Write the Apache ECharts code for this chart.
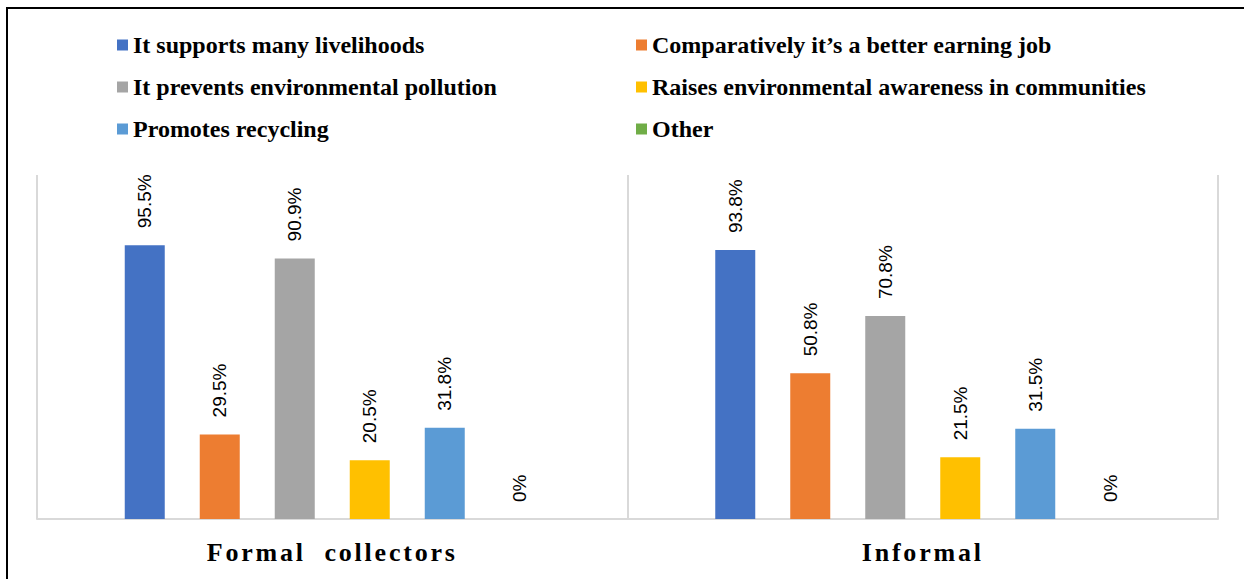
<!DOCTYPE html>
<html>
<head>
<meta charset="utf-8">
<title>Reasons for waste collection work</title>
<script src="https://cdn.jsdelivr.net/npm/echarts@6/dist/echarts.min.js"></script>
<style>
  html, body { margin: 0; padding: 0; background: #fff; }
  #chart { width: 1244px; height: 579px; }
  #chart text { white-space: pre; }
</style>
</head>
<body>
<div id="chart"></div>
<script>
// Collector groups along the category axis
const categories = ['Formal  collectors', 'Informal'];

// Reason names, in legend order
const seriesNames = [
  'It supports many livelihoods',
  'Comparatively it\u2019s a better earning job',
  'It prevents environmental pollution',
  'Raises environmental awareness in communities',
  'Promotes recycling',
  'Other'
];

// Share of respondents (%) per group: [formal, informal]
const supportsLivelihoods = [95.5, 93.8];
const betterEarningJob = [29.5, 50.8];
const preventsPollution = [90.9, 70.8];
const raisesAwareness = [20.5, 21.5];
const promotesRecycling = [31.8, 31.5];
const otherReason = [0, 0];

const seriesValues = [
  supportsLivelihoods,
  betterEarningJob,
  preventsPollution,
  raisesAwareness,
  promotesRecycling,
  otherReason
];

const palette = ['#4472C4', '#ED7D31', '#A5A5A5', '#FFC000', '#5B9BD5', '#70AD47'];

const chart = echarts.init(document.getElementById('chart'), null, { renderer: 'svg' });

const legendText = {
  fontFamily: '"Liberation Serif", "Times New Roman", serif',
  fontWeight: 'bold',
  fontSize: 24,
  color: '#000'
};

const legendBase = {
  orient: 'vertical',
  top: 28,
  itemWidth: 11,
  itemHeight: 11,
  itemGap: 18,
  icon: 'rect',
  selectedMode: false,
  textStyle: legendText
};

const option = {
  animation: false,
  color: palette,
  graphic: [{
    type: 'polyline',
    silent: true,
    shape: { points: [[7, 600], [7, 8], [1250, 8]] },
    style: { stroke: '#000', lineWidth: 2, fill: null }
  }],
  legend: [
    Object.assign({}, legendBase, {
      left: 112,
      data: [seriesNames[0], seriesNames[2], seriesNames[4]]
    }),
    Object.assign({}, legendBase, {
      left: 631,
      data: [seriesNames[1], seriesNames[3], seriesNames[5]]
    })
  ],
  grid: { left: 37, right: 26, top: 175, bottom: 60, containLabel: false },
  xAxis: {
    type: 'category',
    data: categories,
    boundaryGap: true,
    axisTick: { show: false },
    axisLine: { show: true, lineStyle: { color: '#D9D9D9', width: 2 } },
    splitLine: { show: true, lineStyle: { color: '#D9D9D9', width: 2 } },
    axisLabel: {
      margin: 20,
      color: '#000',
      fontFamily: '"Liberation Serif", "Times New Roman", serif',
      fontWeight: 'bold',
      fontSize: 26
    }
  },
  yAxis: {
    type: 'value',
    min: 0,
    max: 120,
    show: false,
    splitLine: { show: false }
  },
  series: seriesNames.map((name, i) => ({
    name: name,
    type: 'bar',
    data: seriesValues[i],
    barWidth: 40,
    barGap: '87.5%',
    label: {
      show: true,
      position: 'top',
      rotate: 90,
      align: 'left',
      verticalAlign: 'middle',
      distance: 17,
      color: '#000',
      fontFamily: '"Liberation Sans", Arial, sans-serif',
      fontSize: 19,
      formatter: p => p.value + '%'
    }
  }))
};

chart.setOption(option);

// Spread the letters of the group names on the category axis
function spaceGroupNames() {
  document.querySelectorAll('#chart text').forEach(t => {
    if (categories.includes(t.textContent)) {
      t.setAttribute('letter-spacing', '2.8');
      t.style.letterSpacing = '2.8px';
    }
  });
}
chart.on('finished', spaceGroupNames);
spaceGroupNames();
setTimeout(spaceGroupNames, 50);
</script>
</body>
</html>
